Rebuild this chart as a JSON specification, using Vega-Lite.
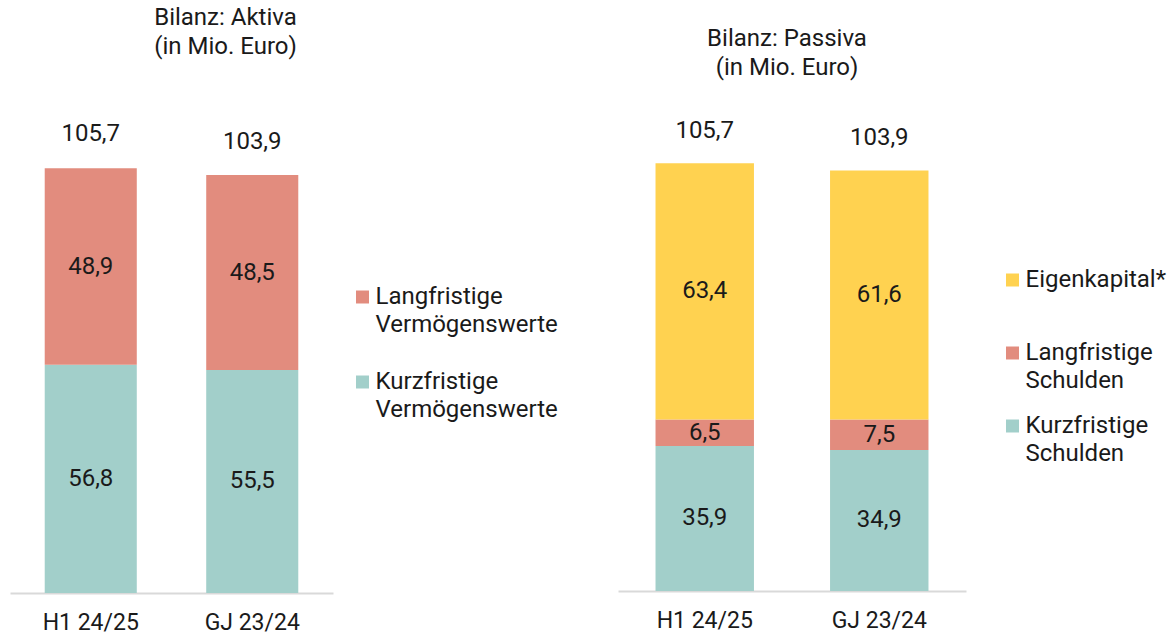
{
  "$schema": "https://vega.github.io/schema/vega-lite/v6.json",
  "padding": {"left": 10, "top": 6, "right": 5, "bottom": 3},
  "config": {
    "font": "Roboto",
    "view": {"stroke": null},
    "locale": {"number": {"decimal": ",", "thousands": ".", "grouping": [3], "currency": ["", " €"]}},
    "axisX": {"domainColor": "#D9D9D9", "domainWidth": 2, "ticks": false, "labelFontSize": 23, "labelColor": "#1a1a1a", "labelPadding": 18, "labelAngle": 0, "grid": false},
    "legend": {"labelFontSize": 24, "labelColor": "#1a1a1a", "labelLimit": 0, "labelOffset": 1, "symbolSize": 169, "symbolStrokeWidth": 0, "symbolType": "square"}
  },
  "datasets": {
    "aktiva": [
      {"period": "H1 24/25", "category": "Kurzfristige Vermögenswerte", "rank": 1, "value": 56.8},
      {"period": "H1 24/25", "category": "Langfristige Vermögenswerte", "rank": 2, "value": 48.9},
      {"period": "GJ 23/24", "category": "Kurzfristige Vermögenswerte", "rank": 1, "value": 55.5},
      {"period": "GJ 23/24", "category": "Langfristige Vermögenswerte", "rank": 2, "value": 48.5}
    ],
    "aktivaTotal": [
      {"period": "H1 24/25", "total": 105.7},
      {"period": "GJ 23/24", "total": 103.9}
    ],
    "passiva": [
      {"period": "H1 24/25", "category": "Kurzfristige Schulden", "rank": 1, "value": 35.9},
      {"period": "H1 24/25", "category": "Langfristige Schulden", "rank": 2, "value": 6.5},
      {"period": "H1 24/25", "category": "Eigenkapital*", "rank": 3, "value": 63.4},
      {"period": "GJ 23/24", "category": "Kurzfristige Schulden", "rank": 1, "value": 34.9},
      {"period": "GJ 23/24", "category": "Langfristige Schulden", "rank": 2, "value": 7.5},
      {"period": "GJ 23/24", "category": "Eigenkapital*", "rank": 3, "value": 61.6}
    ],
    "passivaTotal": [
      {"period": "H1 24/25", "total": 105.7},
      {"period": "GJ 23/24", "total": 103.9}
    ]
  },
  "bounds": "flush",
  "spacing": 285,
  "resolve": {"scale": {"x": "independent", "y": "independent", "color": "independent"}, "legend": {"color": "independent"}},
  "hconcat": [
    {
      "width": 323,
      "height": 442,
      "title": {"text": ["Bilanz: Aktiva", "(in Mio. Euro)"], "fontSize": 24, "fontWeight": "normal", "color": "#1a1a1a", "lineHeight": 29, "anchor": "middle", "frame": "group", "dx": 54, "offset": 63},
      "layer": [
        {
          "data": {"name": "aktiva"},
          "mark": {"type": "bar"},
          "encoding": {
            "x": {"field": "period", "type": "nominal", "sort": ["H1 24/25", "GJ 23/24"], "scale": {"paddingInner": 0.43, "paddingOuter": 0.215}, "axis": {"title": null}},
            "y": {"field": "value", "type": "quantitative", "stack": "zero", "scale": {"domain": [0, 110], "nice": false}, "axis": null},
            "color": {"field": "category", "type": "nominal",
              "scale": {"domain": ["Langfristige Vermögenswerte", "Kurzfristige Vermögenswerte"], "range": ["#E28C7E", "#A2CFCA"]},
              "legend": {"title": null, "orient": "none", "legendX": 340.5, "legendY": 134, "rowPadding": 33,
                "labelExpr": "split(datum.label, ' ')",
                "encode": {"labels": {"update": {"lineHeight": {"value": 28}}}}}},
            "order": {"field": "rank", "type": "quantitative"}
          }
        },
        {
          "data": {"name": "aktiva"},
          "mark": {"type": "text", "fontSize": 24, "color": "#1a1a1a"},
          "encoding": {
            "x": {"field": "period", "type": "nominal", "sort": ["H1 24/25", "GJ 23/24"], "axis": {"title": null}},
            "y": {"field": "value", "type": "quantitative", "stack": "zero", "bandPosition": 0.5, "axis": null},
            "detail": {"field": "category", "type": "nominal"},
            "order": {"field": "rank", "type": "quantitative"},
            "text": {"field": "value", "type": "quantitative", "format": ".1f"}
          }
        },
        {
          "data": {"name": "aktivaTotal"},
          "mark": {"type": "text", "fontSize": 24, "color": "#1a1a1a", "dy": -34},
          "encoding": {
            "x": {"field": "period", "type": "nominal", "sort": ["H1 24/25", "GJ 23/24"], "axis": {"title": null}},
            "y": {"field": "total", "type": "quantitative", "axis": null},
            "text": {"field": "total", "type": "quantitative", "format": ".1f"}
          }
        }
      ]
    },
    {
      "width": 348,
      "height": 440,
      "title": {"text": ["Bilanz: Passiva", "(in Mio. Euro)"], "fontSize": 24, "fontWeight": "normal", "color": "#1a1a1a", "lineHeight": 29, "anchor": "middle", "frame": "group", "dx": -5, "offset": 39},
      "layer": [
        {
          "data": {"name": "passiva"},
          "mark": {"type": "bar"},
          "encoding": {
            "x": {"field": "period", "type": "nominal", "sort": ["H1 24/25", "GJ 23/24"], "scale": {"paddingInner": 0.436, "paddingOuter": 0.215}, "axis": {"title": null}},
            "y": {"field": "value", "type": "quantitative", "stack": "zero", "scale": {"domain": [0, 108.85], "nice": false}, "axis": null},
            "color": {"field": "category", "type": "nominal",
              "scale": {"domain": ["Eigenkapital*", "Langfristige Schulden", "Kurzfristige Schulden"], "range": ["#FFD250", "#E28C7E", "#A2CFCA"]},
              "legend": {"title": null, "orient": "none", "legendX": 382.5, "legendY": 117, "rowPadding": 21,
                "labelExpr": "datum.label == 'Eigenkapital*' ? ['Eigenkapital*', ''] : split(datum.label, ' ')",
                "encode": {"labels": {"update": {"lineHeight": {"value": 28}}}}}},
            "order": {"field": "rank", "type": "quantitative"}
          }
        },
        {
          "data": {"name": "passiva"},
          "mark": {"type": "text", "fontSize": 24, "color": "#1a1a1a"},
          "encoding": {
            "x": {"field": "period", "type": "nominal", "sort": ["H1 24/25", "GJ 23/24"], "axis": {"title": null}},
            "y": {"field": "value", "type": "quantitative", "stack": "zero", "bandPosition": 0.5, "axis": null},
            "detail": {"field": "category", "type": "nominal"},
            "order": {"field": "rank", "type": "quantitative"},
            "text": {"field": "value", "type": "quantitative", "format": ".1f"}
          }
        },
        {
          "data": {"name": "passivaTotal"},
          "mark": {"type": "text", "fontSize": 24, "color": "#1a1a1a", "dy": -33},
          "encoding": {
            "x": {"field": "period", "type": "nominal", "sort": ["H1 24/25", "GJ 23/24"], "axis": {"title": null}},
            "y": {"field": "total", "type": "quantitative", "axis": null},
            "text": {"field": "total", "type": "quantitative", "format": ".1f"}
          }
        }
      ]
    }
  ]
}
